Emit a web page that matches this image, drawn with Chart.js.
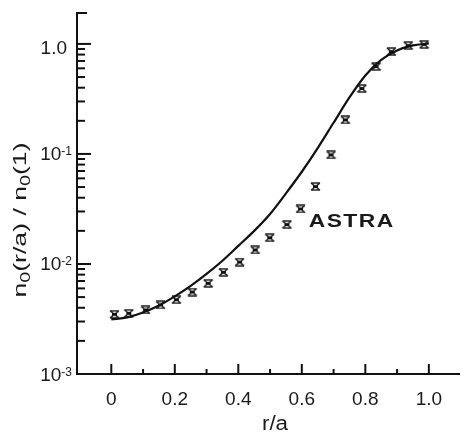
<!DOCTYPE html>
<html>
<head>
<meta charset="utf-8">
<script src="https://cdn.jsdelivr.net/npm/chart.js@4"></script>
<style>
  html, body { margin: 0; padding: 0; background: #fff; }
  canvas { display: block; }
</style>
</head>
<body>
<canvas id="c" width="465" height="433"></canvas>
<script>
// Simulated profile (solid curve)
const simR = [0.0, 0.05, 0.1, 0.15, 0.2, 0.25, 0.3, 0.35, 0.4, 0.45, 0.5, 0.55, 0.6, 0.65, 0.7, 0.75, 0.8, 0.85, 0.9, 0.95, 1.0];
const simN = [0.00314, 0.00327, 0.00362, 0.00419, 0.00507, 0.00631, 0.00811, 0.0107, 0.0146, 0.0200, 0.0285, 0.0438, 0.0689, 0.113, 0.192, 0.326, 0.516, 0.716, 0.873, 0.969, 1.01];

// ASTRA profile (asterisk markers)
const astraR = [0.01, 0.055, 0.108, 0.155, 0.205, 0.255, 0.305, 0.353, 0.404, 0.453, 0.499, 0.553, 0.596, 0.643, 0.692, 0.737, 0.789, 0.834, 0.882, 0.935, 0.985];
const astraN = [0.00349, 0.00356, 0.00382, 0.00424, 0.00473, 0.00556, 0.00667, 0.0084, 0.0104, 0.0134, 0.0173, 0.0228, 0.0316, 0.0505, 0.098, 0.204, 0.393, 0.622, 0.851, 0.966, 0.99];

// Axis ticks and labels
const xMajor = [0, 0.2, 0.4, 0.6, 0.8, 1.0];
const xLabels = ['0', '0.2', '0.4', '0.6', '0.8', '1.0'];
const xMinor = [0.1, 0.3, 0.5, 0.7, 0.9];
const yMajor = [0.001, 0.01, 0.1, 1];
const yLabelBase = ['10', '10', '10', '1.0'];
const yLabelSup = ['-3', '-2', '-1', ''];

const FONT = '"Liberation Sans", Arial, Helvetica, sans-serif';

// asterisk-like marker: crossed lines closed by short bars top and bottom
function makeMarker() {
  const c = document.createElement('canvas');
  c.width = 11; c.height = 9;
  const g = c.getContext('2d');
  g.strokeStyle = '#222';
  g.lineWidth = 1.5;
  g.beginPath();
  g.moveTo(1, 1); g.lineTo(10, 8);
  g.moveTo(10, 1); g.lineTo(1, 8);
  g.moveTo(1, 1); g.lineTo(10, 1);
  g.moveTo(1, 8); g.lineTo(10, 8);
  g.stroke();
  g.fillStyle = '#111';
  g.fillRect(3, 3, 5, 3);
  return c;
}

const axisDecor = {
  id: 'axisDecor',
  afterDraw(chart) {
    const { ctx, chartArea: a, scales: { x, y } } = chart;
    ctx.save();
    ctx.strokeStyle = '#111';
    ctx.lineWidth = 2;
    const seg = (x1, y1, x2, y2) => { ctx.beginPath(); ctx.moveTo(x1, y1); ctx.lineTo(x2, y2); ctx.stroke(); };

    // y ticks, pointing inward
    yMajor.forEach(v => {
      const py = y.getPixelForValue(v);
      seg(a.left, py, a.left + 14, py);
      for (let m = 2; m <= 9; m++) {
        const mv = m * v;
        if (mv < y.max) {
          const pm = y.getPixelForValue(mv);
          seg(a.left, pm, a.left + 8, pm);
        }
      }
    });
    seg(a.left - 1, a.top, a.left + 10, a.top);

    // x ticks, pointing inward
    xMajor.forEach(v => { const px = x.getPixelForValue(v); seg(px, a.bottom, px, a.bottom - 10); });
    xMinor.forEach(v => { const px = x.getPixelForValue(v); seg(px, a.bottom, px, a.bottom - 5); });

    ctx.fillStyle = '#1a1a1a';

    // x tick labels
    ctx.font = '19px ' + FONT;
    ctx.textAlign = 'center';
    ctx.textBaseline = 'alphabetic';
    xMajor.forEach((v, i) => {
      ctx.fillText(xLabels[i], x.getPixelForValue(v), a.bottom + 31);
    });

    // y tick labels with superscript exponents
    yMajor.forEach((v, i) => {
      const py = y.getPixelForValue(v);
      if (yLabelSup[i]) {
        ctx.font = '12px ' + FONT;
        ctx.textAlign = 'right';
        const supRight = a.left - 5;
        ctx.fillText(yLabelSup[i], supRight, py + 1.5);
        const sw = ctx.measureText(yLabelSup[i]).width;
        ctx.font = '19px ' + FONT;
        ctx.fillText(yLabelBase[i], supRight - sw, py + 6.5);
      } else {
        ctx.font = '19px ' + FONT;
        ctx.textAlign = 'right';
        ctx.fillText(yLabelBase[i], a.left - 10, py + 10);
      }
    });

    // x title
    ctx.save();
    ctx.font = '20px ' + FONT;
    ctx.textAlign = 'center';
    ctx.translate(275, 430);
    ctx.scale(1.12, 1);
    ctx.fillText('r/a', 0, 0);
    ctx.restore();

    // y title with subscripts, rotated
    const parts = [['n', 0], ['0', 1], ['(r/a) / n', 0], ['0', 1], ['(1)', 0]];
    ctx.save();
    ctx.translate(26, 220);
    ctx.rotate(-Math.PI / 2);
    let total = 0;
    parts.forEach(p => { ctx.font = (p[1] ? '14px ' : '19px ') + FONT; total += ctx.measureText(p[0]).width; });
    const stretch = 155 / total;
    ctx.scale(stretch, 1);
    ctx.textAlign = 'left';
    let cx = -total / 2;
    parts.forEach(p => {
      ctx.font = (p[1] ? '14px ' : '19px ') + FONT;
      ctx.fillText(p[0], cx, p[1] ? 4 : 0);
      cx += ctx.measureText(p[0]).width;
    });
    ctx.restore();

    // ASTRA annotation
    ctx.save();
    ctx.font = 'bold 19px ' + FONT;
    ctx.textAlign = 'left';
    ctx.translate(x.getPixelForValue(0.622), y.getPixelForValue(0.0218));
    ctx.scale(1.2, 1);
    ctx.letterSpacing = '1.2px';
    ctx.fillText('ASTRA', 0, 0);
    ctx.restore();

    ctx.restore();
  }
};

new Chart(document.getElementById('c'), {
  type: 'line',
  data: {
    datasets: [
      {
        label: 'model',
        data: simR.map((r, i) => ({ x: r, y: simN[i] })),
        borderColor: '#111',
        borderWidth: 2.2,
        pointRadius: 0,
        fill: false,
        cubicInterpolationMode: 'monotone'
      },
      {
        label: 'ASTRA',
        data: astraR.map((r, i) => ({ x: r, y: astraN[i] })),
        showLine: false,
        pointStyle: makeMarker(),
        pointRadius: 5,
        borderColor: '#111',
        backgroundColor: '#111'
      }
    ]
  },
  options: {
    responsive: false,
    devicePixelRatio: 1,
    animation: false,
    layout: { padding: { top: 13, right: 0, bottom: 0, left: 0 } },
    plugins: { legend: { display: false }, tooltip: { enabled: false } },
    scales: {
      x: {
        type: 'linear',
        min: -0.108,
        max: 1.095,
        grid: { display: true, drawOnChartArea: false, drawTicks: false },
        border: { display: true, color: '#111', width: 2 },
        ticks: { display: false },
        afterFit(s) { s.height = 59; }
      },
      y: {
        type: 'logarithmic',
        min: 0.001,
        max: 1.91,
        grid: { display: true, drawOnChartArea: false, drawTicks: false },
        border: { display: true, color: '#111', width: 2 },
        ticks: { display: false },
        afterFit(s) { s.width = 77; }
      }
    }
  },
  plugins: [axisDecor]
});
</script>
</body>
</html>
